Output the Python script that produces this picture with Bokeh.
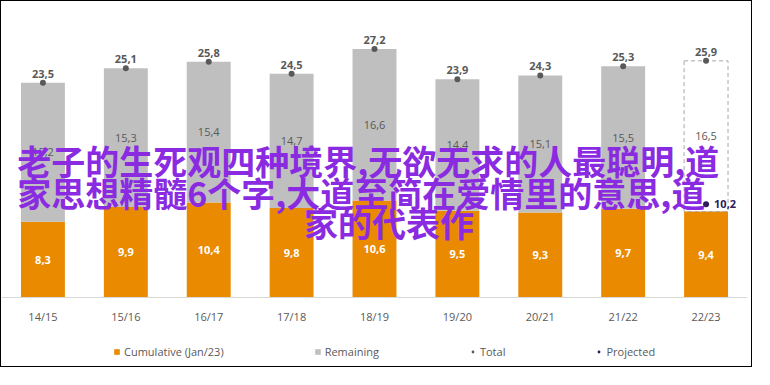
from bokeh.plotting import figure
from bokeh.models import (ColumnDataSource, FactorRange, Range1d, Legend, LegendItem,
                          Label, CategoricalAxis)
from bokeh.core.properties import value
from bokeh.embed import file_html
from bokeh.resources import INLINE

# ---------------- data ----------------
seasons = ["14/15", "15/16", "16/17", "17/18", "18/19", "19/20", "20/21", "21/22", "22/23"]
cumulative = [8.3, 9.9, 10.4, 9.8, 10.6, 9.5, 9.3, 9.7, 9.4]
remaining = [15.2, 15.3, 15.4, 14.7, 16.6, 14.4, 15.1, 15.5, 16.5]
total = [23.5, 25.1, 25.8, 24.5, 27.2, 23.9, 24.3, 25.3, 25.9]
projected_season = ["22/23"]
projected = [10.2]
legend_labels = ["Cumulative (Jan/23)", "Remaining", "Total", "Projected"]
overlay_lines = ["老子的生死观四种境界,无欲无求的人最聪明,道",
                 "家思想精髓6个字,大道至简在爱情里的意思,道",
                 "家的代表作"]

ORANGE = "#EA8A00"
GREY = "#BFBFBF"
DARK = "#595959"
NAVY = "#2E1B5E"
PURPLE = "#8A2BE2"
FONT = "Open Sans"
CJK = "Noto Sans CJK SC"


def fmt(v):
    return f"{v:.1f}".replace(".", ",")


n_done = len(seasons) - 1  # last season still in progress (projected)

src_all = ColumnDataSource(dict(
    x=seasons, cum=cumulative, total=total, rem=remaining,
    cum_mid=[c / 2 for c in cumulative],
    rem_mid=[(c + t) / 2 for c, t in zip(cumulative, total)],
    cum_lbl=[fmt(v) for v in cumulative],
    rem_lbl=[fmt(v) for v in remaining],
    tot_lbl=[fmt(v) for v in total],
))
src_done = ColumnDataSource(dict(x=seasons[:n_done], cum=cumulative[:n_done], total=total[:n_done]))
src_cur = ColumnDataSource(dict(x=seasons[n_done:], cum=cumulative[n_done:], total=total[n_done:]))
src_proj = ColumnDataSource(dict(x=projected_season, y=projected, lbl=[fmt(v) for v in projected]))

p = figure(x_range=FactorRange(*seasons), y_range=Range1d(-7.78, 32.4),
           width=752, height=367, output_backend="svg", toolbar_location=None,
           x_axis_location=None, y_axis_location=None,
           min_border_left=0, min_border_right=6, min_border_top=0, min_border_bottom=0)
p.styles = {"border": "1px solid black"}
p.outline_line_color = None
p.grid.visible = False
p.background_fill_color = "white"
p.border_fill_color = "white"

BW = 0.53
r_cum = p.vbar(x="x", bottom=0, top="cum", width=BW, fill_color=ORANGE, line_color=None, source=src_all)
r_rem = p.vbar(x="x", bottom="cum", top="total", width=BW, fill_color=GREY, line_color=None, source=src_done)
p.vbar(x="x", bottom="cum", top="total", width=BW, fill_color=None, line_color="#A6A6A6",
       line_dash="4 3", line_width=1, source=src_cur)

r_tot = p.scatter(x="x", y="total", size=6, fill_color=DARK, line_color=None, source=src_all)
r_proj = p.scatter(x="x", y="y", size=6, fill_color=NAVY, line_color=None, source=src_proj)

p.text(x="x", y="total", text="tot_lbl", text_align="center", text_baseline="bottom", y_offset=-5,
       text_font=value(FONT), text_font_size="11px", text_font_style="bold", text_color=DARK, source=src_all)
p.text(x="x", y="cum_mid", text="cum_lbl", text_align="center", text_baseline="middle",
       text_font=value(FONT), text_font_size="11px", text_font_style="bold", text_color="white", source=src_all)
p.text(x="x", y="rem_mid", text="rem_lbl", text_align="center", text_baseline="middle",
       text_font=value(FONT), text_font_size="11px", text_color=DARK, source=src_all)
p.text(x="x", y="y", text="lbl", text_align="left", text_baseline="middle", x_offset=8,
       text_font=value(FONT), text_font_size="11px", text_font_style="bold", text_color=NAVY, source=src_proj)

xa = CategoricalAxis(fixed_location=0)
xa.axis_line_color = "#D9D9D9"
xa.major_tick_line_color = None
xa.minor_tick_line_color = None
xa.major_label_text_font = FONT
xa.major_label_text_font_size = "11px"
xa.major_label_text_color = DARK
xa.major_label_standoff = 6
p.add_layout(xa, "below")

legend = Legend(items=[LegendItem(label=legend_labels[0], renderers=[r_cum]),
                       LegendItem(label=legend_labels[1], renderers=[r_rem]),
                       LegendItem(label=legend_labels[2], renderers=[r_tot]),
                       LegendItem(label=legend_labels[3], renderers=[r_proj])],
                orientation="horizontal", location=(112, 9), spacing=90, padding=0, margin=0,
                border_line_color=None, background_fill_alpha=0,
                label_text_font=FONT, label_text_font_size="11px", label_text_color=DARK,
                glyph_width=7, glyph_height=7, label_standoff=4)
p.add_layout(legend)

line_pos = [(0.19, 14.95), (0.19, 11.45), (3.65, 8.2)]
for txt, (lx, ly) in zip(overlay_lines, line_pos):
    p.add_layout(Label(x=lx, y=ly, text=txt, text_font=CJK, text_font_size="34px",
                       text_font_style="bold", text_color=PURPLE,
                       text_align="left", text_baseline="middle"))

open("out.html", "w").write(file_html(p, INLINE))
